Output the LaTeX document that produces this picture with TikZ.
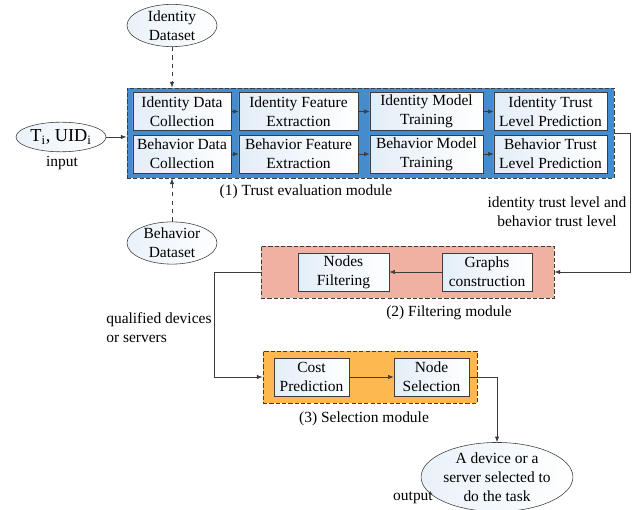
\documentclass[tikz,border=0pt]{standalone}
\usepackage{fontspec}
\setmainfont{Liberation Serif}
\usetikzlibrary{shapes.geometric,arrows.meta}

\definecolor{azul}{RGB}{70,140,205}
\definecolor{rosa}{RGB}{240,176,162}
\definecolor{naranja}{RGB}{253,185,80}
\definecolor{linea}{RGB}{60,60,60}

\tikzset{
  caja/.style={draw=linea, left color=azul!15, right color=white, align=center,
    inner sep=0pt, minimum height=0.94cm},
  modulo/.style={draw=linea, dash pattern=on 3pt off 1.5pt, semithick, inner sep=0pt},
  elipse/.style={ellipse, draw=linea, left color=azul!12, right color=white,
    align=center, inner sep=0pt},
  flecha/.style={draw=linea, -{Latex[length=4pt,width=3pt]}},
  texto/.style={align=center, inner sep=0pt}
}

\begin{document}
\begin{tikzpicture}[x=0.025cm, y=-0.025cm, font=\fontsize{11}{13.5}\selectfont]
\useasboundingbox (0,0) rectangle (642,510);

% Los tres modulos de fondo
\node[modulo, fill=azul, minimum width=12.175cm, minimum height=2.25cm] (trust) at (370.5,133) {};
\node[modulo, fill=rosa, minimum width=7.325cm, minimum height=1.3cm] (filt) at (407.5,272) {};
\node[modulo, fill=naranja, minimum width=5.35cm, minimum height=1.3cm] (sel) at (370,377) {};

% Modulo de evaluacion de confianza
\node[caja, minimum width=2.45cm] (idc) at (182,111.5) {Identity Data\\Collection};
\node[caja, minimum width=2.975cm] (ife) at (298.5,111.5) {Identity Feature\\Extraction};
\node[caja, minimum width=2.825cm] (imt) at (426.5,111.5) {Identity Model\\Training};
\node[caja, minimum width=2.825cm] (itp) at (550.5,111.5) {Identity Trust\\Level Prediction};
\node[caja, minimum width=2.45cm] (bdc) at (182,154) {Behavior Data\\Collection};
\node[caja, minimum width=2.975cm] (bfe) at (298.5,154) {Behavior Feature\\Extraction};
\node[caja, minimum width=2.825cm] (bmt) at (426.5,154) {Behavior Model\\Training};
\node[caja, minimum width=2.825cm] (btp) at (550.5,154) {Behavior Trust\\Level Prediction};

% Modulo de filtrado y de seleccion
\node[caja, minimum width=2.275cm] (nf) at (343.5,272) {Nodes\\Filtering};
\node[caja, minimum width=2.25cm] (gc) at (487,272) {Graphs\\construction};
\node[caja, minimum width=1.875cm] (cp) at (311.5,377) {Cost\\Prediction};
\node[caja, minimum width=1.875cm] (ns) at (431.5,377) {Node\\Selection};

% Elipses de entrada, datos y salida
\node[elipse, minimum width=2.25cm, minimum height=0.74cm, font=\fontsize{13}{15}\selectfont] (inp) at (61,137) {T\textsubscript{i}, UID\textsubscript{i}};
\node[elipse, minimum width=2.25cm, minimum height=0.875cm] (idset) at (172,25.5) {Identity\\Dataset};
\node[elipse, minimum width=2.25cm, minimum height=0.9cm] (bset) at (172,243) {Behavior\\Dataset};
\node[elipse, minimum width=3.275cm, minimum height=1.65cm] (out) at (497,477) {A device or a\\server selected to\\do the task};

% Textos
\node[texto] (linput) at (62,163) {input};
\node[texto] (loutput) at (413,498) {output};
\node[texto] (l1) at (306,192) {(1) Trust evaluation module};
\node[texto] (l2) at (449,313) {(2) Filtering module};
\node[texto] (l3) at (364,419) {(3) Selection module};
\node[texto] (lniv) at (557,212) {identity trust level and\\behavior trust level};
\node[texto, align=left, anchor=west] (lqual) at (106,328) {qualified devices\\or servers};

% Flechas
\draw[flecha] (inp.east) -- (inp.east -| trust.west);
\draw[flecha, dashed] (idset.south) -- (idset.south |- trust.north);
\draw[flecha, dashed] (bset.north) -- (bset.north |- trust.south);
\foreach \a/\b in {idc/ife, ife/imt, imt/itp, bdc/bfe, bfe/bmt, bmt/btp}
  \draw[flecha] (\a) -- (\b);
\draw[flecha] (trust.east) -- ++(16,0) |- (filt.east);
\draw[flecha] (gc) -- (nf);
\draw[flecha] (filt.west) -- ++(-46,0) |- (sel.west);
\draw[flecha] (cp) -- (ns);
\draw[flecha] (ns.east) -| (out.north);
\end{tikzpicture}
\end{document}
